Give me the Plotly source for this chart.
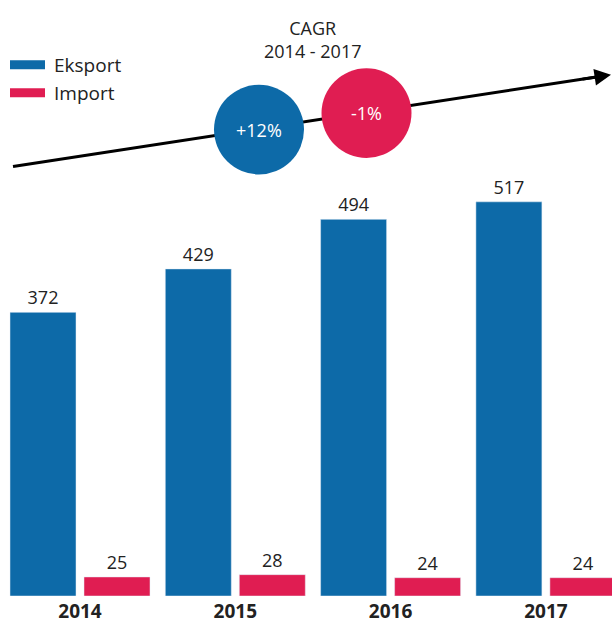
import plotly.graph_objs as go

# dane
lata = ['2014', '2015', '2016', '2017']
eksport = [372, 429, 494, 517]
import_ = [25, 28, 24, 24]
cagr_etykiety = ['+12%', '-1%']

NIEBIESKI = '#0D6AA8'
ROZOWY = '#E01D52'
TEKST = '#222222'
FONT = 'Open Sans'

W, H = 612, 624
BAZA = 598  # os x w pikselach
B = H - BAZA


def px(x):
    return x / W


def py(y):
    return (BAZA - y) / BAZA


fig = go.Figure()
fig.add_trace(go.Bar(
    x=lata, y=eksport, name='Eksport', marker_color=NIEBIESKI,
    text=eksport, textposition='outside', cliponaxis=False,
    textfont=dict(size=18, color=TEKST, family=FONT),
))
fig.add_trace(go.Bar(
    x=lata, y=import_, name='Import', marker_color=ROZOWY,
    text=import_, textposition='outside', cliponaxis=False,
    textfont=dict(size=18, color=TEKST, family=FONT),
))

# legenda rysowana recznie
shapes = []
annotations = []
for i, (nazwa, kolor) in enumerate([('Eksport', NIEBIESKI), ('Import', ROZOWY)]):
    yc = 65 + i * 28
    shapes.append(dict(type='rect', xref='paper', yref='paper',
                       x0=px(10), x1=px(45), y0=py(yc - 4.5), y1=py(yc + 4.5),
                       fillcolor=kolor, line_width=0))
    annotations.append(dict(text=nazwa, xref='paper', yref='paper',
                            x=px(52), y=py(yc), xanchor='left', yanchor='middle',
                            showarrow=False, font=dict(size=19, color=TEKST, family=FONT)))

# strzalka
shapes.append(dict(type='line', xref='paper', yref='paper',
                   x0=px(13), y0=py(167), x1=px(598), y1=py(77),
                   line=dict(color='black', width=3)))
annotations.append(dict(x=px(611), y=py(75), xref='paper', yref='paper',
                        ax=-30, ay=4.6, showarrow=True, arrowhead=2,
                        arrowsize=1.1, arrowwidth=3, arrowcolor='black', text=''))

# kolka CAGR
for (cx, cy), kolor, etyk in zip([(259, 130), (366.5, 113.5)], [NIEBIESKI, ROZOWY], cagr_etykiety):
    r = 45
    shapes.append(dict(type='circle', xref='paper', yref='paper',
                       x0=px(cx - r), x1=px(cx + r), y0=py(cy + r), y1=py(cy - r),
                       fillcolor=kolor, line_width=0))
    annotations.append(dict(text=etyk, xref='paper', yref='paper', x=px(cx), y=py(cy),
                            xanchor='center', yanchor='middle', showarrow=False,
                            font=dict(size=18, color='white', family=FONT)))

annotations.append(dict(text='CAGR<br>2014 - 2017', xref='paper', yref='paper',
                        x=px(312), y=py(40), yanchor='middle', showarrow=False,
                        font=dict(size=18, color=TEKST, family=FONT)))

# zakres osi x tak, by srodki kategorii wypadly na 80, 235, 390, 546 px
krok = 155.3
x0 = -80 / krok
x1 = x0 + W / krok

fig.update_layout(
    width=W, height=H,
    margin=dict(l=0, r=0, t=0, b=B),
    plot_bgcolor='white', paper_bgcolor='white',
    showlegend=False,
    bargap=0.047, bargroupgap=0.108,
    shapes=shapes, annotations=annotations,
)
fig.update_xaxes(range=[x0, x1], showgrid=False, zeroline=False,
                 showline=False, ticks='', ticklabelstandoff=2,
                 tickfont=dict(size=19, color=TEKST, family=FONT, weight='bold'))
fig.update_yaxes(range=[0, BAZA / 0.765], visible=False)

fig.write_html('out.html', config={'displayModeBar': False},
               post_script="document.body.style.margin='0';"
                           "document.body.style.overflow='hidden';")
